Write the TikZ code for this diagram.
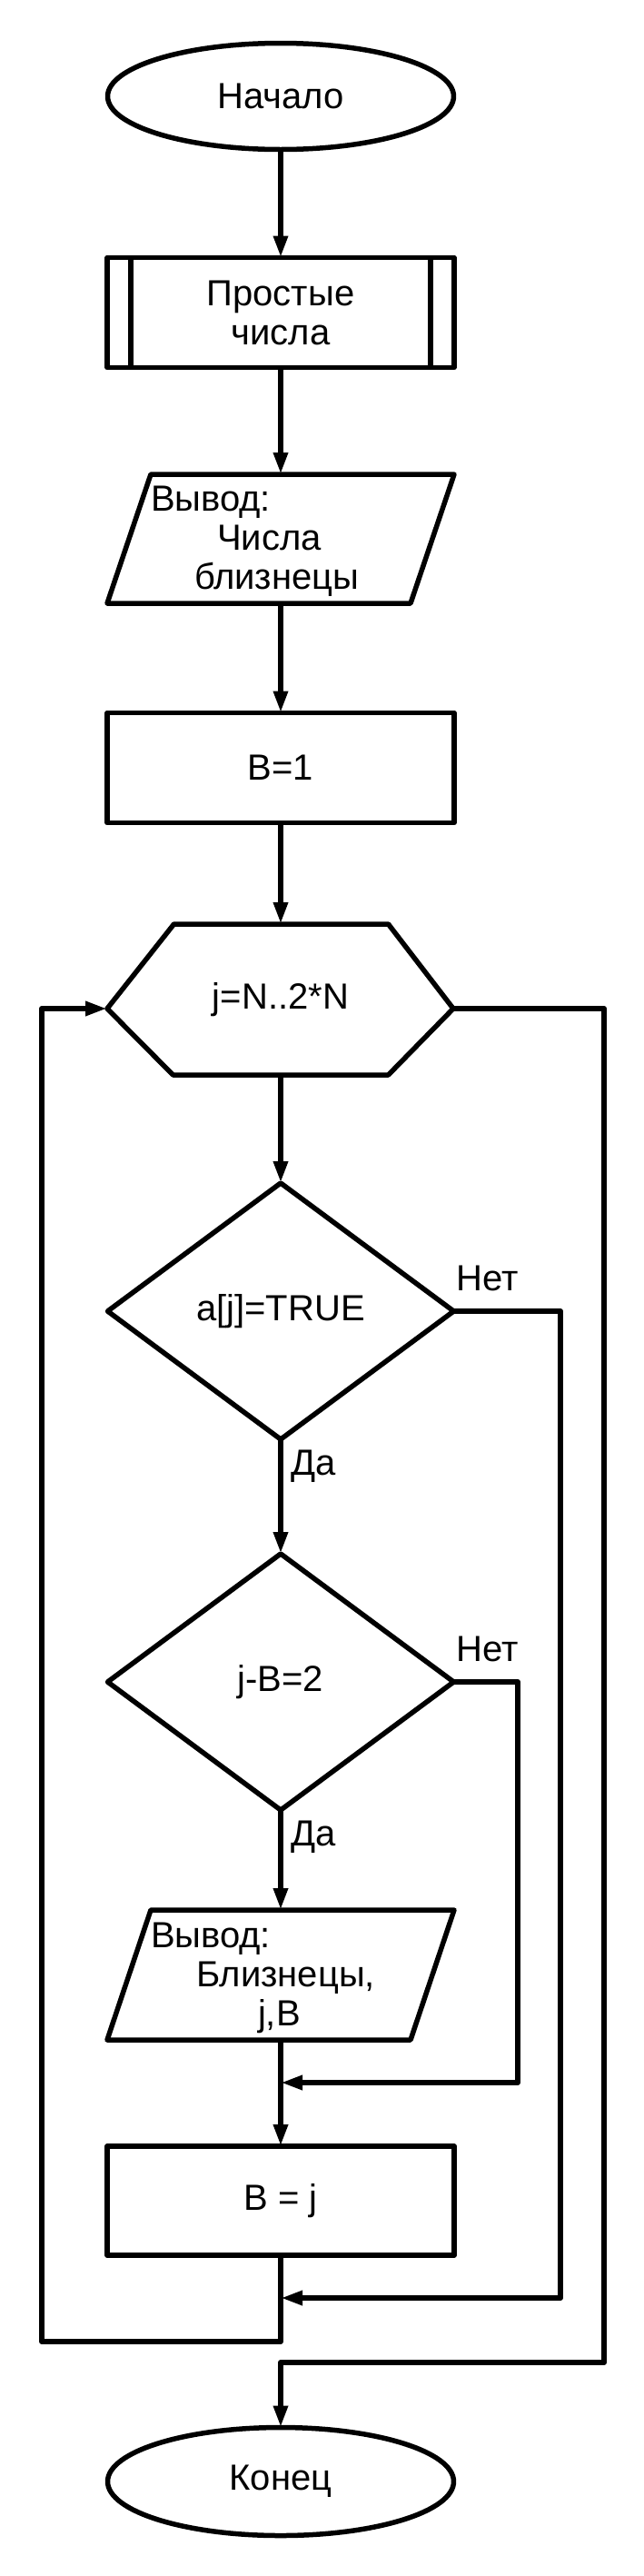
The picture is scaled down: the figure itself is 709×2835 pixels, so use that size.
\documentclass[tikz,border=0pt]{standalone}
\usepackage{fontspec}
\setmainfont{Liberation Sans}
\usetikzlibrary{shapes.geometric,arrows.meta,calc}
\begin{document}
\begin{tikzpicture}[x=1pt,y=-1pt,
  every node/.style={font=\fontsize{40}{43}\selectfont, inner sep=0pt, outer sep=0pt},
  shp/.style={line width=5.5pt, line join=round},
  term/.style={shp, draw, ellipse, minimum width=381pt, minimum height=117pt},
  proc/.style={shp, draw, rectangle, minimum width=382pt, minimum height=121pt, align=center},
  decis/.style={shp, draw, diamond, minimum width=381pt, minimum height=282pt},
  area/.style={rectangle, minimum width=382pt, minimum height=142pt},
  lbl/.style={anchor=base west},
  conn/.style={line width=6pt, line join=round},
  arr/.style={conn, -{Triangle[length=24pt,width=15pt]}},
]
\useasboundingbox (0,0) rectangle (709,2835);

% nodes
\node[term] (start) at (309,106) {Начало};

\node[proc] (prime) at (309,344) {Простые\\числа};
\draw[shp] ($(prime.north west)+(26,0)$) -- ($(prime.south west)+(26,0)$);
\draw[shp] ($(prime.north east)+(-26,0)$) -- ($(prime.south east)+(-26,0)$);

\node[area] (out1) at (309,593) {};
\draw[shp] ($(out1.north west)+(48,0)$) -- (out1.north east) -- ($(out1.south east)+(-48,0)$) -- (out1.south west) -- cycle;
\node[anchor=north west, align=left] (out1t) at (166,535) {Вывод:\\\hspace*{73pt}Числа\\\hspace*{48pt}близнецы};

\node[proc] (b1) at (309,845) {B=1};

\node[minimum width=381pt, minimum height=166pt] (cyc) at (309,1100) {j=N..2*N};
\coordinate (cycW) at (118,1110);
\coordinate (cycE) at (499,1110);
\draw[shp] ($(cyc.north west)+(73,0)$) -- ($(cyc.north east)+(-72,0)$) -- (cycE)
  -- ($(cyc.south east)+(-72,0)$) -- ($(cyc.south west)+(72,0)$) -- (cycW) -- cycle;

\node[decis] (d1) at (309,1443) {a[j]=TRUE};
\node[decis] (d2) at (309,1851) {j-B=2};

\node[area, minimum height=143pt] (out2) at (309,2173.5) {};
\draw[shp] ($(out2.north west)+(48,0)$) -- (out2.north east) -- ($(out2.south east)+(-48,0)$) -- (out2.south west) -- cycle;
\node[anchor=north west, align=left] (out2t) at (166,2116) {Вывод:\\\hspace*{50pt}Близнецы,\\\hspace*{118pt}j,B};

\node[proc, minimum height=120pt] (bj) at (309,2422) {B = j};

\node[term, minimum height=119pt] (end) at (309,2731) {Конец};

% helper coordinates
\coordinate (m1) at (309,2292);
\coordinate (n2) at (570,2292);
\coordinate (m2) at (309,2529);
\coordinate (n1) at (617,2529);
\coordinate (lb) at (46,2577);
\coordinate (ex) at (665,2600);

% connectors
\draw[arr] (start) -- (prime);
\draw[arr] (prime) -- (out1.north);
\draw[arr] (out1.south) -- (b1);
\draw[arr] (b1) -- (cyc.north);
\draw[arr] (cyc.south) -- (d1);
\draw[arr] (d1) -- (d2);
\draw[arr] (d2) -- (out2.north);
\draw[arr] (out2.south) -- (bj);
\draw[arr] (d2.east) -| (n2) -- (m1);
\draw[arr] (d1.east) -| (n1) -- (m2);
\draw[arr] (bj.south) |- (lb) |- (cycW);
\draw[arr] (cycE) -| (ex) -| (end.north);

% labels
\node[lbl] (no1) at ($(d1.east)+(3,-23)$) {Нет};
\node[lbl] (yes1) at ($(d1.south)+(11,39)$) {Да};
\node[lbl] (no2) at ($(d2.east)+(3,-23)$) {Нет};
\node[lbl] (yes2) at ($(d2.south)+(11,39)$) {Да};
\end{tikzpicture}
\end{document}
